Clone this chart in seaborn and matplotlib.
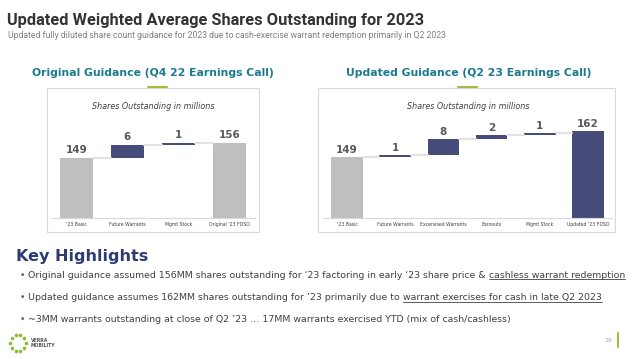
import numpy as np
import seaborn as sns
import matplotlib.pyplot as plt
from matplotlib.patches import Rectangle
from matplotlib.lines import Line2D

sns.set_theme(style="white")
plt.rcParams['font.family'] = ['DejaVu Sans']

# data
orig_labels = ["'23 Basic", "Future Warrants", "Mgmt Stock", "Original '23 FDSO"]
orig_values = [149, 6, 1, 156]
orig_total = [True, False, False, True]

upd_labels = ["'23 Basic", "Future Warrants", "Excersised Warrants", "Earnouts",
              "Mgmt Stock", "Updated '23 FDSO"]
upd_values = [149, 1, 8, 2, 1, 162]
upd_total = [True, False, False, False, False, True]

upd_colors = ["#BFBFBF", "#464C7A", "#464C7A", "#464C7A", "#464C7A", "#464C7A"]
orig_colors = ["#BFBFBF", "#464C7A", "#464C7A", "#BFBFBF"]

W, H = 640, 359
fig = plt.figure(figsize=(6.4, 3.59), dpi=100)


def px(x0, y0, x1, y1):
    # pixel box (top-left origin) -> figure fraction rect
    return [x0 / W, 1 - y1 / H, (x1 - x0) / W, (y1 - y0) / H]


def waterfall(ax, labels, values, totals, colors, ylo, yhi):
    bottoms, heights = [], []
    run = 0
    for v, t in zip(values, totals):
        if t:
            bottoms.append(0)
            run = v
        else:
            bottoms.append(run)
            run += v
        heights.append(v)
    sns.barplot(x=labels, y=heights, bottom=bottoms, color="#464C7A",
                width=0.66, saturation=1, ax=ax)
    for p, c in zip(ax.patches, colors):
        p.set_facecolor(c)
        p.set_edgecolor("none")
    # connectors
    tops = [b + h for b, h in zip(bottoms, heights)]
    for i in range(len(labels) - 1):
        ax.plot([i + 0.33, i + 1 - 0.33], [tops[i], tops[i]], color="#E3E3E3", lw=1.5)
    for i, v in enumerate(values):
        ax.text(i, tops[i] + 1.2, str(v), ha="center", va="bottom", fontsize=7.5,
                fontweight="bold", color="#595959")
    ax.set_ylim(ylo, yhi)
    ax.set_xlim(-0.5, len(labels) - 0.5)
    ax.set_yticks([])
    ax.set_xlabel("")
    ax.set_ylabel("")
    ax.tick_params(axis="x", length=0, labelsize=3.3, colors="#404040", pad=3)
    for s in ["top", "left", "right"]:
        ax.spines[s].set_visible(False)
    ax.spines["bottom"].set_color("#D9D9D9")
    ax.spines["bottom"].set_linewidth(0.8)
    ax.set_facecolor("none")


# panel boxes
for (x0, x1) in [(47, 259), (318, 615)]:
    fig.patches.append(Rectangle((x0 / W, 1 - 232 / H), (x1 - x0) / W, (232 - 88) / H,
                                 transform=fig.transFigure, fill=False,
                                 edgecolor="#D9D9D9", lw=0.8))
# green accent lines above boxes
for (x0, x1) in [(148, 167), (458, 477)]:
    fig.lines.append(Line2D([x0 / W, x1 / W], [1 - 87 / H, 1 - 87 / H],
                            transform=fig.transFigure, color="#9DC03A", lw=1.5))

ax1 = fig.add_axes(px(51, 90, 255, 218))
waterfall(ax1, orig_labels, orig_values, orig_total, orig_colors, 121, 180.5)
ax2 = fig.add_axes(px(323, 90, 612, 218))
waterfall(ax2, upd_labels, upd_values, upd_total, upd_colors, 119, 182.4)

fig.text(153 / W, 1 - 107 / H, "Shares Outstanding in millions", ha="center", va="center",
         fontsize=5.8, style="italic", color="#404040")
fig.text(468 / W, 1 - 107 / H, "Shares Outstanding in millions", ha="center", va="center",
         fontsize=5.8, style="italic", color="#404040")

# headings
fig.text(7 / W, 1 - 20 / H, "Updated Weighted Average Shares Outstanding for 2023",
         fontsize=11.8, fontweight="bold", color="#333333", va="center", family="Roboto")
fig.text(8 / W, 1 - 35.5 / H,
         "Updated fully diluted share count guidance for 2023 due to cash-exercise warrant redemption primarily in Q2 2023",
         fontsize=6.2, color="#7F7F7F", va="center", family="Roboto")
fig.text(153 / W, 1 - 73 / H, "Original Guidance (Q4 22 Earnings Call)", ha="center",
         va="center", fontsize=7.8, fontweight="bold", color="#1B7A8E")
fig.text(469 / W, 1 - 73 / H, "Updated Guidance (Q2 23 Earnings Call)", ha="center",
         va="center", fontsize=7.8, fontweight="bold", color="#1B7A8E")

fig.text(16 / W, 1 - 256 / H, "Key Highlights", fontsize=11.5, fontweight="bold",
         color="#2F3B73", va="center")

bullets = [
    ("Original guidance assumed 156MM shares outstanding for \u201823 factoring in early \u201823 share price & ",
     "cashless warrant redemption"),
    ("Updated guidance assumes 162MM shares outstanding for \u201923 primarily due to ",
     "warrant exercises for cash in late Q2 2023"),
    ("~3MM warrants outstanding at close of Q2 \u201923 \u2026 17MM warrants exercised YTD (mix of cash/cashless)", ""),
]
renderer = fig.canvas.get_renderer()
for i, (plain, under) in enumerate(bullets):
    y = 1 - (275 + 22.5 * i) / H
    fig.text(20 / W, y, "\u2022", fontsize=6.5, color="#595959", va="center")
    t = fig.text(28 / W, y, plain, fontsize=6.75, color="#404040", va="center")
    if under:
        bb = t.get_window_extent(renderer)
        x0 = bb.x1 / fig.bbox.width
        t2 = fig.text(x0, y, under, fontsize=6.75, color="#404040", va="center")
        bb2 = t2.get_window_extent(renderer)
        yl = (bb2.y0 + 0.5) / fig.bbox.height
        fig.lines.append(Line2D([bb2.x0 / fig.bbox.width, bb2.x1 / fig.bbox.width], [yl, yl],
                                transform=fig.transFigure, color="#404040", lw=0.6))

# logo
ang = np.linspace(0, 2 * np.pi, 10, endpoint=False)
cx, cy, r = 18, 343, 8
fig.lines.append(Line2D((cx + r * np.cos(ang)) / W, 1 - (cy + r * np.sin(ang)) / H,
                        transform=fig.transFigure, ls="none", marker="o", ms=1.6,
                        color="#8DBB3C"))
fig.text(31 / W, 1 - 343 / H, "VERRA\nMOBILITY", fontsize=3.3, fontweight="bold",
         color="#555555", va="center", linespacing=1.1)
fig.text(612 / W, 1 - 340 / H, "19", fontsize=4.5, color="#AAAAAA", va="center", ha="right")
fig.lines.append(Line2D([618 / W, 618 / W], [1 - 333 / H, 1 - 347 / H],
                        transform=fig.transFigure, color="#9DC03A", lw=1.5))

fig.savefig("out.png", dpi=100, facecolor="white")
